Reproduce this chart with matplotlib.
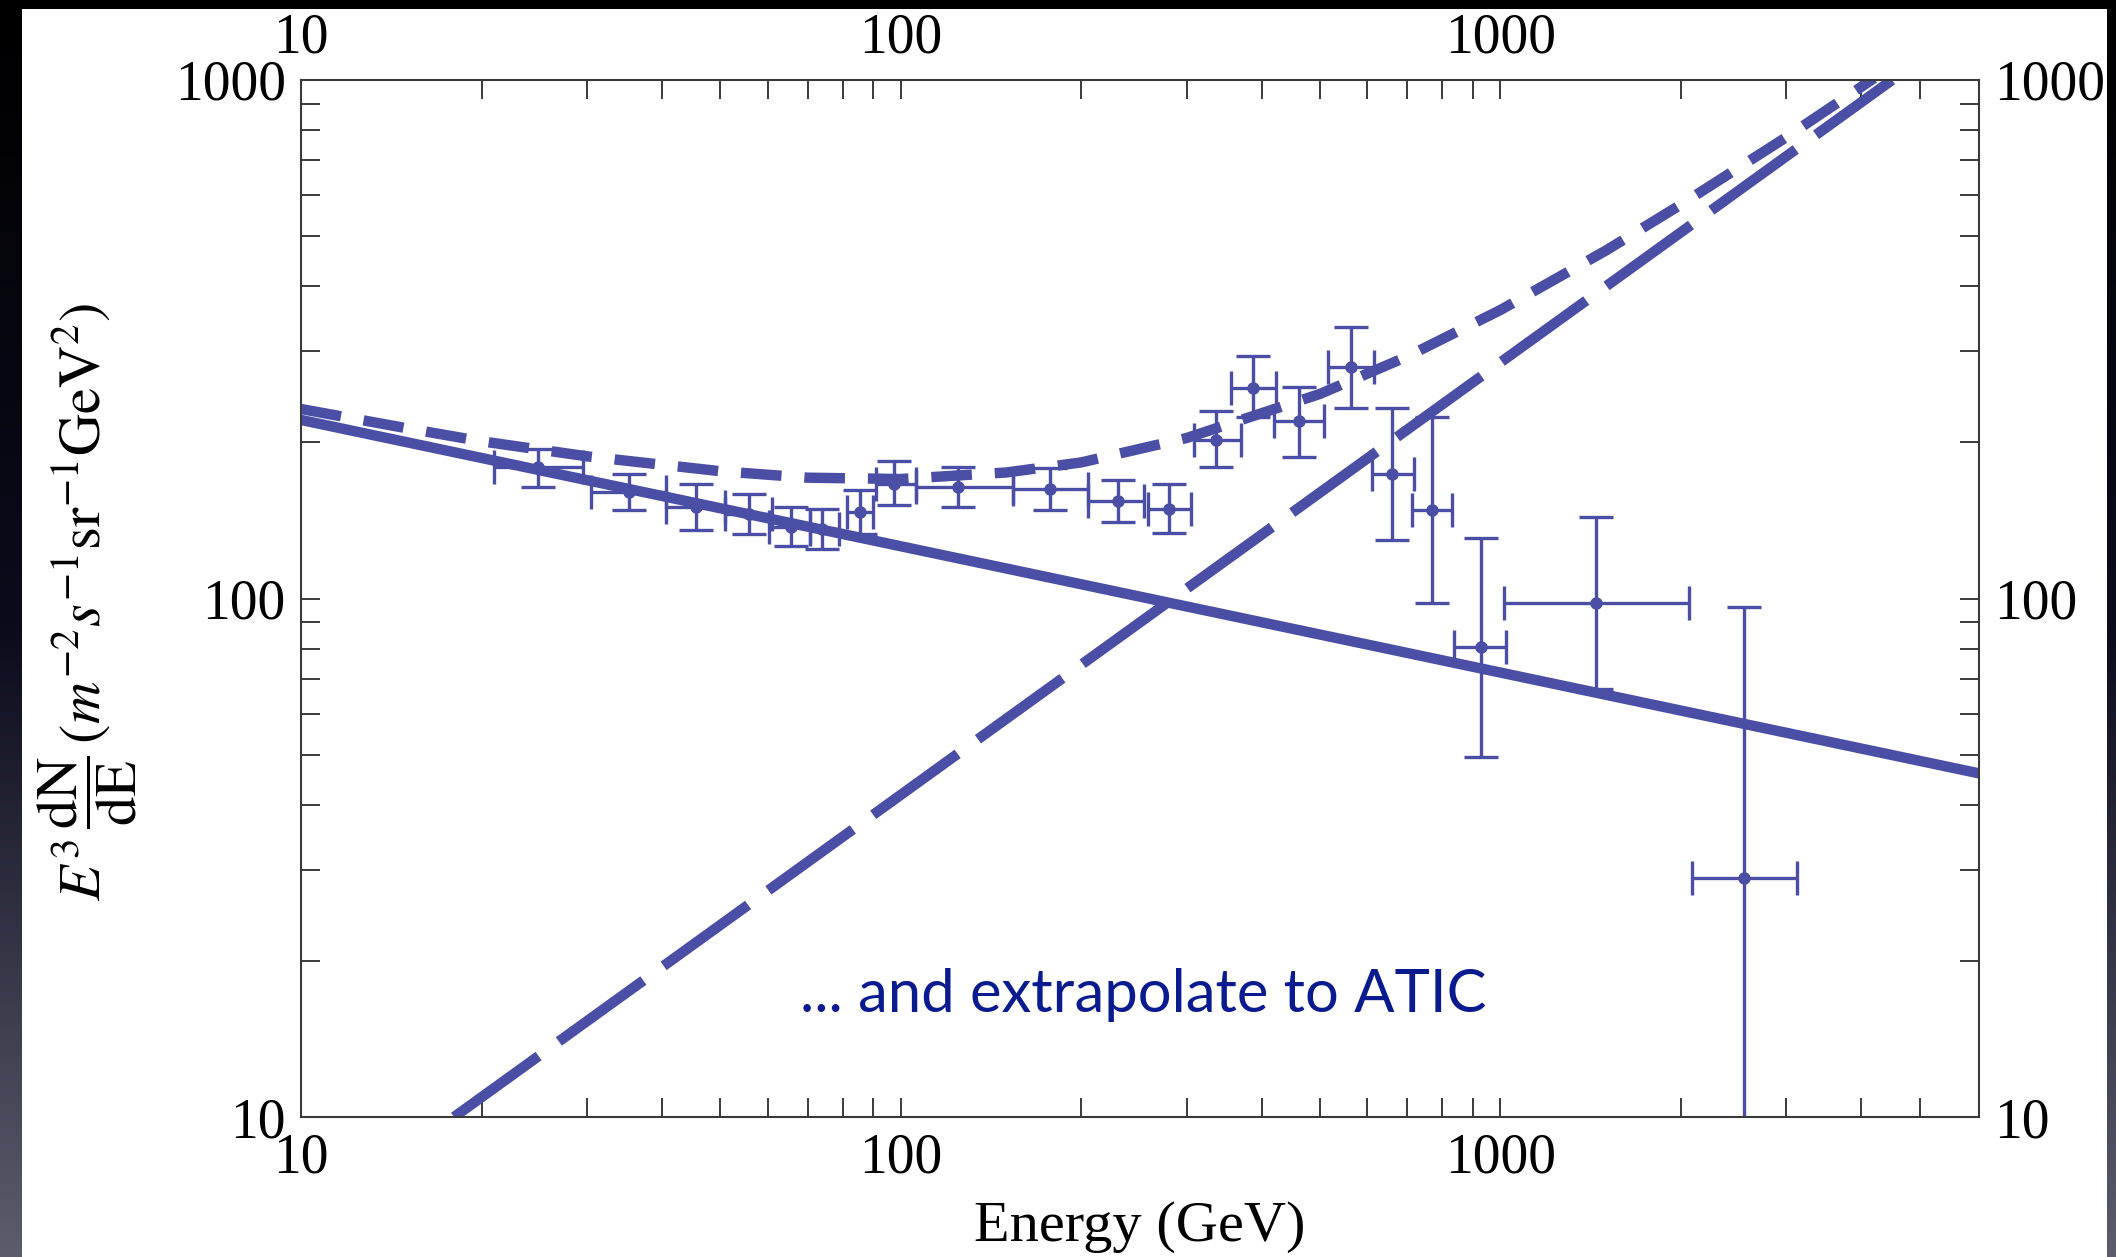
import numpy as np
import matplotlib.pyplot as plt
from matplotlib.patches import Rectangle
from matplotlib.colors import LinearSegmentedColormap
from matplotlib.ticker import NullFormatter

plt.rcParams['font.family'] = ['Liberation Serif', 'DejaVu Serif']
plt.rcParams['mathtext.fontset'] = 'stix'

# measured points: energy (GeV), bin edges, flux and error bar ends
energy = [24.8, 35.3, 45.5, 55.9, 65.6, 74.0, 85.5, 97.5, 124.5, 177.4, 230,
          280.4, 335.4, 386.1, 461.9, 563.2, 659.8, 770, 928.7, 1443, 2547]
e_low = [21, 30.5, 40.6, 51, 60.3, 70.5, 81.5, 91, 106, 154, 205.5,
         258, 309, 355, 420, 515, 611, 713, 838, 1015, 2087]
e_high = [29.5, 40.6, 51, 61, 70.5, 79, 90, 106, 154, 205, 255,
          305, 369, 422, 508, 616, 717, 831, 1022, 2060, 3122]
flux = [179, 160.4, 150.1, 145.3, 137.5, 136, 146.8, 166.5, 164, 162.9, 154.1,
        149, 201.8, 255.2, 219.6, 279.6, 174.1, 147.9, 80.5, 97.9, 28.9]
flux_low = [164, 147.9, 135.7, 132.9, 126, 124.5, 133.4, 151.2, 150.1, 147.9, 140.4,
            133.9, 179.3, 223.9, 187.4, 233.4, 129.8, 97.9, 49.4, 67, 5]
flux_high = [194.5, 174.1, 166, 158.8, 150.1, 149, 161.6, 183.9, 179.3, 178.2, 169,
             166, 229.6, 293.3, 255.8, 334, 233.4, 223.9, 131, 143.5, 96.2]

# background power law (solid)
bg_energy = [10, 6283]
bg_flux = [221, 46]
# extra component (long dashes)
dm_energy = [18, 4500]
dm_flux = [10, 1000]
# sum (short dashes)
total_energy = [10, 15, 20, 30, 50, 70, 100, 150, 200, 300, 500, 700,
                1000, 1500, 2000, 3000, 4200]
total_flux = [232, 213, 201, 188, 176, 171, 170, 175, 183, 204, 248, 293,
              360, 469, 575, 776, 1008]

major_ticks = [10, 100, 1000]
major_labels = ['10', '100', '1000']
x_minor = [20, 30, 40, 50, 60, 70, 80, 90, 200, 300, 400, 500, 600, 700, 800, 900,
           2000, 3000, 4000, 5000]
y_minor = [20, 30, 40, 50, 60, 70, 80, 90, 200, 300, 400, 500, 600, 700, 800, 900]

blue = '#4a4fa5'
axis_col = '#3a3a3a'

W, H = 2116, 1257
fig = plt.figure(figsize=(W / 100, H / 100), dpi=100)

# slide background: dark frame around a white card
bg = fig.add_axes([0, 0, 1, 1], zorder=-10)
grad = np.linspace(0, 1, 256).reshape(-1, 1)
cmap = LinearSegmentedColormap.from_list('slide', ['#000000', '#0b0b1c', '#5b5d6d'])
bg.imshow(grad, aspect='auto', cmap=cmap, extent=[0, 1, 0, 1], origin='upper')
bg.add_patch(Rectangle((22 / W, 0), (2107 - 22) / W, (H - 9) / H,
                       facecolor='white', edgecolor='none'))
bg.set_xlim(0, 1)
bg.set_ylim(0, 1)
bg.axis('off')

ax = fig.add_axes([301 / W, 140 / H, 1678 / W, 1037 / H])
ax.set_xscale('log')
ax.set_yscale('log')

ax.plot(bg_energy, bg_flux, color=blue, lw=7.5, solid_capstyle='butt')
ax.plot(dm_energy, dm_flux, color=blue, lw=7.5, ls=(0, (10, 2.4)), dash_capstyle='butt')
ax.plot(total_energy, total_flux, color=blue, lw=7.5, ls=(0, (3.9, 2.2)),
        dash_capstyle='butt')

xerr = [np.subtract(energy, e_low), np.subtract(e_high, energy)]
yerr = [np.subtract(flux, flux_low), np.subtract(flux_high, flux)]
ax.errorbar(energy, flux, xerr=xerr, yerr=yerr, fmt='o', ms=8, color=blue,
            elinewidth=2.4, capsize=12, capthick=2.4)

ax.set_xlim(10, 6283)
ax.set_ylim(10, 1000)

ax.set_xticks(major_ticks, labels=major_labels)
ax.set_yticks(major_ticks, labels=major_labels)
ax.set_xticks(x_minor, minor=True)
ax.set_yticks(y_minor, minor=True)
ax.xaxis.set_minor_formatter(NullFormatter())
ax.yaxis.set_minor_formatter(NullFormatter())
ax.tick_params(which='both', direction='in', length=13.7, width=1.4, color=axis_col,
               top=True, right=True, labeltop=True, labelright=True, labelsize=40, pad=11)
for s in ax.spines.values():
    s.set_color(axis_col)
    s.set_linewidth(1.5)

ax.set_xlabel('Energy (GeV)', fontsize=42)
ax.xaxis.set_label_coords(0.5, -0.081)
ax.set_ylabel(r'$E^3\,\dfrac{\mathrm{dN}}{\mathrm{dE}}\,(m^{-2}s^{-1}\mathrm{sr}^{-1}\mathrm{GeV}^2)$',
              fontsize=42, va='center')
ax.yaxis.set_label_coords((87 - 301) / 1678, (1117 - 602) / 1037)

fig.text(800 / W, 1 - 1011.7 / H, '... and extrapolate to ATIC', family=['Lato', 'DejaVu Sans'],
         fontsize=43, color='#0a1a8f', va='baseline')

fig.savefig('out.png', dpi=100)
